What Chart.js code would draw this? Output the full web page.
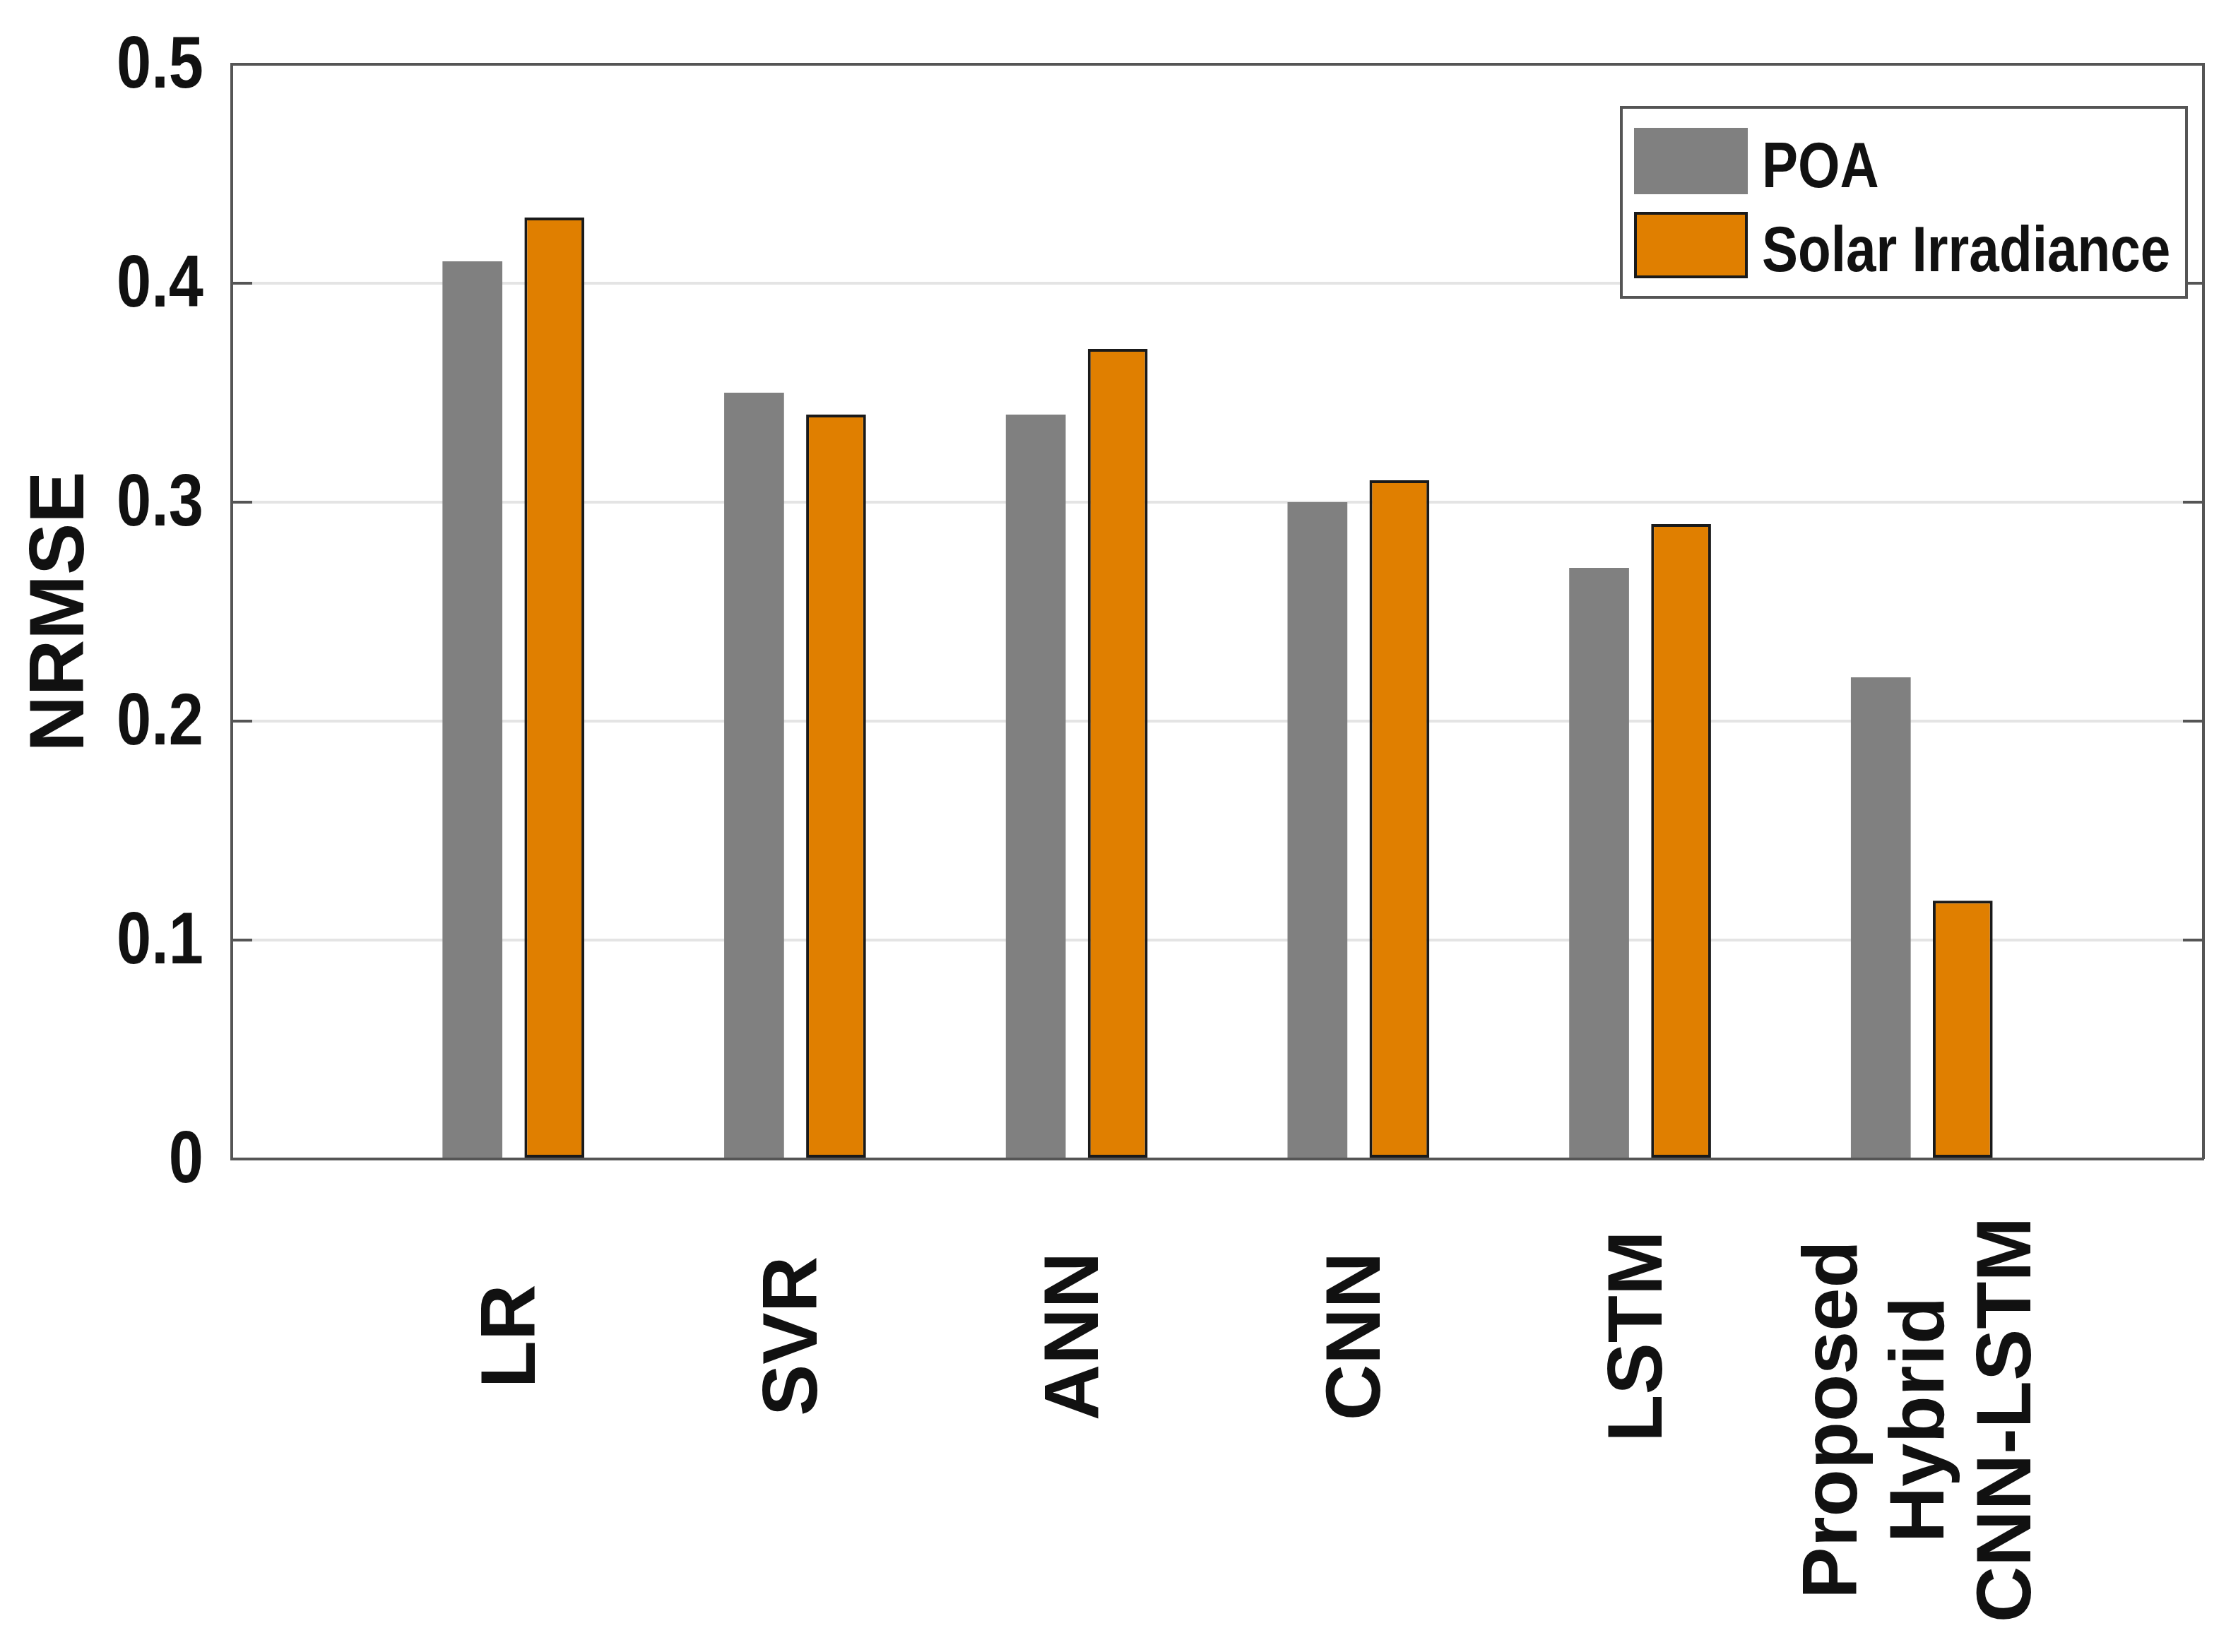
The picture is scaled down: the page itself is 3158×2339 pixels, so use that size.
<!DOCTYPE html>
<html>
<head>
<meta charset="utf-8">
<script src="https://cdn.jsdelivr.net/npm/chart.js@4.4.1/dist/chart.umd.min.js"></script>
<style>
  html, body { margin: 0; padding: 0; background: #fff; }
  canvas { display: block; }
</style>
</head>
<body>
<canvas id="chart" width="3158" height="2339"></canvas>
<script>
// data
const categories = ['LR', 'SVR', 'ANN', 'CNN', 'LSTM', ['Proposed', 'Hybrid', 'CNN-LSTM']]
const poaValues = [0.41, 0.35, 0.34, 0.30, 0.27, 0.22]
const solarValues = [0.43, 0.34, 0.37, 0.31, 0.29, 0.118]
const yTicks = [0, 0.1, 0.2, 0.3, 0.4, 0.5]

// matlab leaves an empty slot at both ends of the x axis
const labels = ['', ...categories, '']
const pad = (arr) => [null, ...arr, null]

const AXIS = '#555555'
const SANS = '"Liberation Sans", Arial, sans-serif'
const SQUEEZE = 0.85 // the figure was squashed sideways, horizontal text looks narrow

const fmtTick = (v) => (v === 0 ? '0' : v.toFixed(1))

// horizontal text drawn a bit narrow, like the original
function narrowText(ctx, text, x, y, align) {
  ctx.save()
  ctx.translate(x, y)
  ctx.scale(SQUEEZE, 1)
  ctx.textAlign = align
  ctx.fillText(text, 0, 0)
  ctx.restore()
}

// frame, inside ticks, tick labels and boxed legend
const matlabFrame = {
  id: 'matlabFrame',
  afterDraw(chart) {
    const { ctx, chartArea: a, scales: { x, y } } = chart
    ctx.save()
    ctx.strokeStyle = AXIS
    ctx.lineWidth = 4
    ctx.beginPath()
    ctx.moveTo(a.left, a.top)
    ctx.lineTo(a.right, a.top)
    ctx.lineTo(a.right, a.bottom)
    y.ticks.forEach((t) => {
      const py = y.getPixelForValue(t.value)
      ctx.moveTo(a.left, py)
      ctx.lineTo(a.left + 29, py)
      ctx.moveTo(a.right, py)
      ctx.lineTo(a.right - 29, py)
    })
    ctx.stroke()

    // y tick labels
    ctx.fillStyle = '#111'
    ctx.textBaseline = 'middle'
    ctx.font = 'bold 104px ' + SANS
    y.ticks.forEach((t) => {
      narrowText(ctx, fmtTick(t.value), a.left - 40, y.getPixelForValue(t.value) + 4, 'right')
    })

    // x labels, rotated, centred below the axis
    ctx.font = 'bold 110px ' + SANS
    ctx.textAlign = 'center'
    categories.forEach((c, i) => {
      const lines = Array.isArray(c) ? c : [c]
      const px = x.getPixelForValue(i + 1)
      const cy = a.bottom + 251 + (lines.length - 1) * 59
      ctx.save()
      ctx.translate(px, cy)
      ctx.rotate(-Math.PI / 2)
      lines.forEach((t, j) => ctx.fillText(t, 0, (j - (lines.length - 1) / 2) * 123))
      ctx.restore()
    })

    // legend box in the top right corner
    const bx = a.right - 824
    const by = a.top + 61
    ctx.fillStyle = '#fff'
    ctx.fillRect(bx, by, 800, 269)
    ctx.strokeStyle = AXIS
    ctx.lineWidth = 4
    ctx.strokeRect(bx, by, 800, 269)
    ctx.font = 'bold 90px ' + SANS
    chart.data.datasets.forEach((ds, i) => {
      const cy = by + 76 + i * 119
      ctx.fillStyle = ds.backgroundColor
      ctx.fillRect(bx + 18, cy - 47, 161, 94)
      if (ds.borderWidth) {
        ctx.strokeStyle = ds.borderColor
        ctx.lineWidth = ds.borderWidth
        ctx.strokeRect(bx + 20, cy - 45, 157, 90)
      }
      ctx.fillStyle = '#111'
      narrowText(ctx, ds.label, bx + 199, cy + 12, 'left')
    })
    ctx.restore()
  },
}

const ctx = document.getElementById('chart').getContext('2d')
new Chart(ctx, {
  type: 'bar',
  data: {
    labels: labels,
    datasets: [
      {
        label: 'POA',
        data: pad(poaValues),
        backgroundColor: '#808080',
        borderWidth: 0,
      },
      {
        label: 'Solar Irradiance',
        data: pad(solarValues),
        backgroundColor: '#E07F00',
        borderColor: '#1a1a1a',
        borderWidth: 4,
        borderSkipped: false,
      },
    ],
  },
  options: {
    responsive: false,
    devicePixelRatio: 1,
    animation: false,
    categoryPercentage: 0.582,
    barPercentage: 0.73,
    layout: { padding: { top: 91, right: 39, left: 0, bottom: 0 } },
    plugins: {
      legend: { display: false },
      tooltip: { enabled: false },
    },
    scales: {
      x: {
        offset: false,
        grid: { display: false },
        border: { display: true, color: AXIS, width: 4 },
        ticks: { display: false },
        afterFit: (s) => { s.height = 698 },
      },
      y: {
        min: 0,
        max: 0.5,
        afterBuildTicks: (s) => { s.ticks = yTicks.map((v) => ({ value: v })) },
        grid: { color: '#e4e4e4', lineWidth: 4, drawTicks: false },
        border: { display: true, color: AXIS, width: 4 },
        ticks: { display: false },
        title: {
          display: true,
          text: 'NRMSE',
          color: '#111',
          font: { family: SANS, weight: 'bold', size: 110 },
          padding: { top: 22, bottom: 0 },
        },
        afterFit: (s) => { s.width = 328 },
      },
    },
  },
  plugins: [matlabFrame],
})
</script>
</body>
</html>
